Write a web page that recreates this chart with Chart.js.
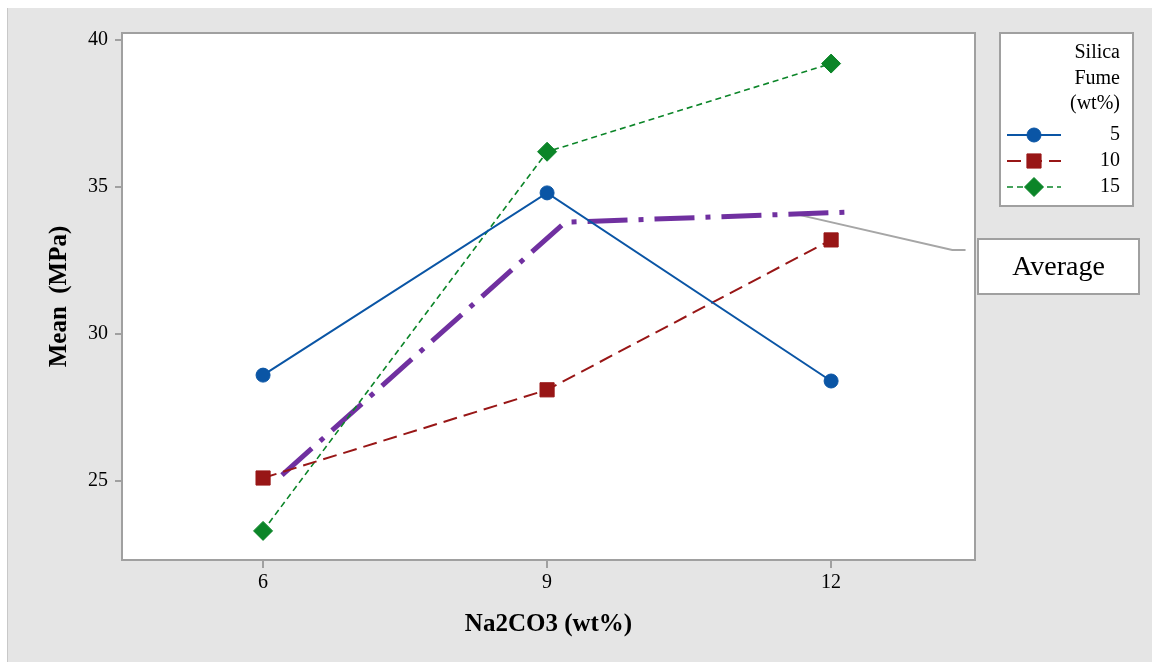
<!DOCTYPE html>
<html>
<head>
<meta charset="utf-8">
<script src="https://cdn.jsdelivr.net/npm/chart.js@4.4.1/dist/chart.umd.min.js"></script>
<style>
  html, body { margin: 0; padding: 0; background: #fff; }
  canvas { display: block; }
</style>
</head>
<body>
<canvas id="myChart" width="1152" height="662"></canvas>
<script>
const xTicks = [6, 9, 12];
const yTicks = [25, 30, 35, 40];

const na2co3 = [6, 9, 12];
const sf5 = [28.6, 34.8, 28.4];
const sf10 = [25.1, 28.1, 33.2];
const sf15 = [23.3, 36.2, 39.2];

// hand drawn "Average" line and its callout, in data units
const avgX = [6.2, 9.19, 12.21];
const avgY = [25.2, 33.8, 34.15];
const calloutX = [11.57, 13.28, 13.42];
const calloutY = [34.12, 32.86, 32.86];

const legendTitle = ['Silica', 'Fume', '(wt%)'];
const legendLabels = ['5', '10', '15'];

const serif = '"Liberation Serif", "Times New Roman", serif';
const gray = '#a0a0a0';

const pts = (xs, ys) => xs.map((x, i) => ({ x: x, y: ys[i] }));

const data = {
    datasets: [{
        label: legendLabels[0],
        data: pts(na2co3, sf5),
        borderColor: '#0a55a5',
        backgroundColor: '#0a55a5',
        borderWidth: 2,
        pointStyle: 'circle',
        pointRadius: 7,
        pointBorderWidth: 1
    }, {
        label: legendLabels[1],
        data: pts(na2co3, sf10),
        borderColor: '#981616',
        backgroundColor: '#981616',
        borderWidth: 2,
        borderDash: [14, 7],
        pointStyle: 'rect',
        pointRadius: 10,
        pointBorderWidth: 1
    }, {
        label: legendLabels[2],
        data: pts(na2co3, sf15),
        borderColor: '#0b8528',
        backgroundColor: '#0b8528',
        borderWidth: 1.6,
        borderDash: [6, 4],
        pointStyle: 'rectRot',
        pointRadius: 9.5,
        pointBorderWidth: 1
    }, {
        label: 'Average',
        data: pts(avgX, avgY),
        borderColor: '#7030a0',
        borderWidth: 5,
        borderDash: [40, 11, 5, 11],
        pointRadius: 0
    }, {
        label: 'callout',
        data: pts(calloutX, calloutY),
        borderColor: '#a6a6a6',
        borderWidth: 2,
        pointRadius: 0
    }]
};

// background, frame, titles, legend and the "Average" box
const decor = {
    id: 'decor',
    beforeDraw(chart) {
        const ctx = chart.ctx;
        ctx.save();
        ctx.fillStyle = '#fff';
        ctx.fillRect(0, 0, chart.width, chart.height);
        ctx.fillStyle = '#e5e5e5';
        ctx.fillRect(8, 8, chart.width - 8, chart.height - 8);
        ctx.fillStyle = '#c8c8c8';
        ctx.fillRect(7, 8, 1, chart.height - 8);
        const a = chart.chartArea;
        ctx.fillStyle = '#fff';
        ctx.fillRect(a.left, a.top, a.right - a.left, a.bottom - a.top);
        ctx.restore();
    },
    afterDraw(chart) {
        const ctx = chart.ctx;
        const a = chart.chartArea;
        ctx.save();
        ctx.strokeStyle = gray;
        ctx.lineWidth = 2;
        ctx.strokeRect(a.left, a.top, a.right - a.left, a.bottom - a.top);

        // axis titles
        ctx.fillStyle = '#000';
        ctx.font = 'bold 25px ' + serif;
        ctx.textAlign = 'center';
        ctx.textBaseline = 'middle';
        ctx.fillText('Na2CO3 (wt%)', (a.left + a.right) / 2, 625);
        ctx.save();
        ctx.translate(60, (a.top + a.bottom) / 2);
        ctx.rotate(-Math.PI / 2);
        ctx.fillText('Mean  (MPa)', 0, 0);
        ctx.restore();

        // legend
        const lx = a.right + 25, ly = a.top, lw = 133, lh = 173;
        ctx.fillStyle = '#fff';
        ctx.fillRect(lx, ly, lw, lh);
        ctx.strokeStyle = gray;
        ctx.lineWidth = 2;
        ctx.strokeRect(lx, ly, lw, lh);
        ctx.fillStyle = '#000';
        ctx.font = '20px ' + serif;
        ctx.textAlign = 'right';
        legendTitle.forEach((t, i) => ctx.fillText(t, lx + 120, ly + 20 + i * 25.5));
        for (let i = 0; i < 3; i++) {
            const ds = chart.data.datasets[i];
            const y = ly + 102 + i * 26;
            ctx.save();
            ctx.strokeStyle = ds.borderColor;
            ctx.lineWidth = ds.borderWidth;
            ctx.setLineDash(ds.borderDash || []);
            ctx.beginPath();
            ctx.moveTo(lx + 7, y);
            ctx.lineTo(lx + 61, y);
            ctx.stroke();
            ctx.restore();
            ctx.save();
            ctx.fillStyle = ds.backgroundColor;
            ctx.strokeStyle = ds.borderColor;
            ctx.lineWidth = 1;
            Chart.helpers.drawPoint(ctx, {
                pointStyle: ds.pointStyle,
                radius: ds.pointRadius,
                rotation: 0,
                borderWidth: 1
            }, lx + 34, y);
            ctx.restore();
            ctx.fillStyle = '#000';
            ctx.fillText(ds.label, lx + 120, y);
        }

        // "Average" box
        const bx = a.right + 3, by = 239;
        ctx.fillStyle = '#fff';
        ctx.fillRect(bx, by, 161, 55);
        ctx.strokeStyle = gray;
        ctx.strokeRect(bx, by, 161, 55);
        ctx.fillStyle = '#000';
        ctx.font = '28px ' + serif;
        ctx.textAlign = 'center';
        ctx.fillText('Average', bx + 80.5, by + 29);
        ctx.restore();
    }
};

const tickFont = { family: serif, size: 20 };

const config = {
    type: 'line',
    data: data,
    plugins: [decor],
    options: {
        responsive: false,
        animation: false,
        layout: { padding: { top: 33, right: 177, left: 0, bottom: 0 } },
        plugins: {
            legend: { display: false },
            tooltip: { enabled: false }
        },
        scales: {
            x: {
                type: 'linear',
                min: 4.51,
                max: 13.52,
                afterFit: s => { s.height = 102; },
                afterBuildTicks: s => { s.ticks = xTicks.map(v => ({ value: v })); },
                grid: { drawOnChartArea: false, tickLength: 8, color: gray, lineWidth: 2 },
                border: { display: false },
                ticks: { font: tickFont, color: '#000', padding: 3 }
            },
            y: {
                min: 22.31,
                max: 40.24,
                afterFit: s => { s.width = 122; },
                afterBuildTicks: s => { s.ticks = yTicks.map(v => ({ value: v })); },
                grid: { drawOnChartArea: false, tickLength: 7, color: gray, lineWidth: 2 },
                border: { display: false },
                ticks: { font: tickFont, color: '#000', padding: 7 }
            }
        }
    }
};

new Chart(document.getElementById('myChart').getContext('2d'), config);
</script>
</body>
</html>
